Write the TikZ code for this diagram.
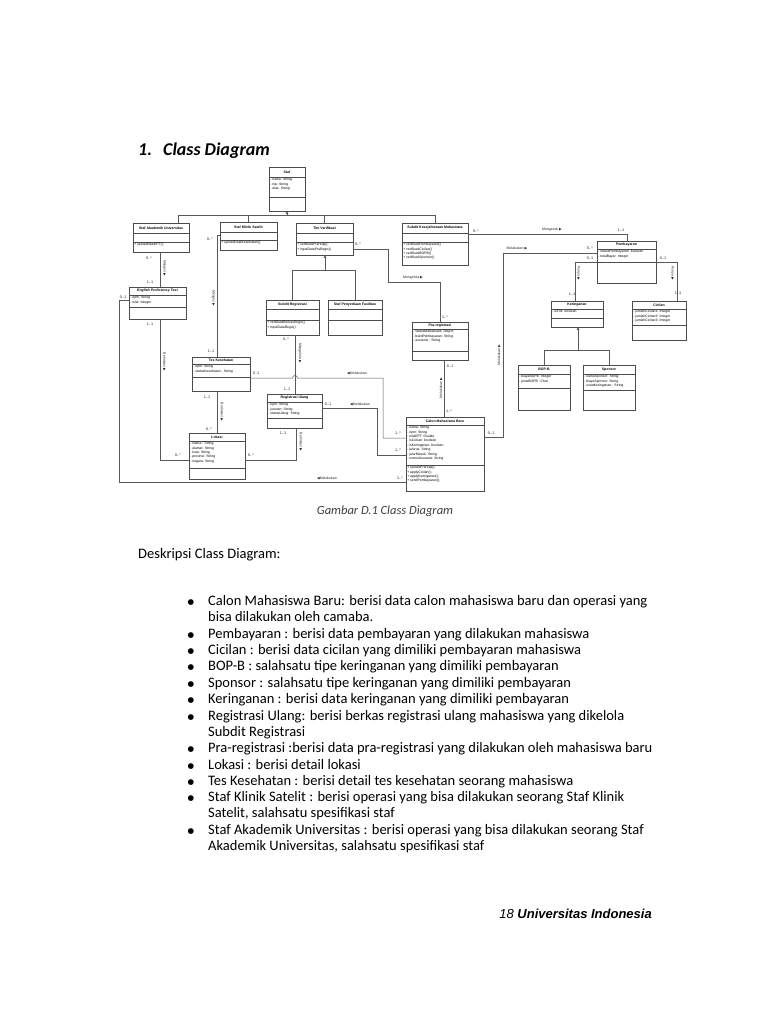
\documentclass[tikz,border=0pt]{standalone}
\usepackage{fontspec}
\setmainfont{Carlito}
\newfontfamily\diag{Liberation Sans}
\newfontfamily\symf{DejaVu Sans}
\usetikzlibrary{fit,calc,arrows.meta}
\newcommand{\tri}{{\symf ▶}}
\newcommand{\ltri}{{\symf ◀}}
\newcommand{\umlclass}[8]{%
  \node[clsbox, fit={(#2) (#3)}] (#1) {};
  \draw[clsline] (#1.west |- 0,#4) -- (#1.east |- 0,#4);
  \draw[clsline] (#1.west |- 0,#5) -- (#1.east |- 0,#5);
  \path (#1.north) -- (#1.north |- 0,#4) node[midway, clstitle] {#6};
  \path (#1.west |- 0,#4) ++(1.4,1.0) node[clsattr] {#7};
  \path (#1.west |- 0,#5) ++(1.4,1.0) node[clsattr] {#8};
}
\tikzset{
  clsbox/.style={draw=black!70, line width=0.6pt, fill=white, inner sep=0pt},
  clsline/.style={draw=black!70, line width=0.45pt},
  clstitle/.style={font=\diag\bfseries\fontsize{3.5}{4}\selectfont, inner sep=0pt},
  clsattr/.style={font=\diag\fontsize{3.4}{4.4}\selectfont, anchor=north west, align=left, inner sep=0pt},
  conn/.style={draw=black!65, line width=0.5pt},
  mult/.style={font=\diag\fontsize{3.8}{4}\selectfont, inner sep=0pt, text=black!85},
  rel/.style={font=\diag\fontsize{3.5}{4}\selectfont, inner sep=0pt, text=black!85},
  inh/.style={conn, -{Triangle[length=2.6pt,width=2.8pt]}},
  body/.style={font=\fontsize{14.5}{17}\selectfont, anchor=base west, inner sep=0pt},
  bul/.style={font=\symf\fontsize{7.5}{8}\selectfont, anchor=base, inner sep=0pt},
}
\begin{document}
\begin{tikzpicture}[x=1pt,y=-1pt]
\fill[white] (0,0) rectangle (768,1024);
\useasboundingbox (0,0) rectangle (768,1024);

% title
\node[anchor=base west, inner sep=0pt, font=\bfseries\itshape\fontsize{18}{21}\selectfont] (t1) at (138,156) {1.};
\node[anchor=base west, inner sep=0pt, font=\bfseries\itshape\fontsize{18}{21}\selectfont] (t2) at (163,156) {Class Diagram};

% classes
\umlclass{staf}{269,167}{305,211}{177}{197}{Staf}{- nama: String\\- nip: String\\- alas: String}{}
\umlclass{sa}{133,223}{189,252}{233}{242}{Staf Akademik Universitas}{}{+ uploadNilaiEPT();}
\umlclass{kl}{220,222}{277,250}{232}{240}{Staf Klinik Satelit}{}{+ uploadDataKesehatan();}
\umlclass{tv}{296,223}{353,255}{233}{242}{Tim Verifikasi}{}{+ verifikasiPrereqs();\\+ inputDataPraRegis()}
\umlclass{sk}{402,223}{468,265}{233}{242}{Subdit Kesejahteraan Mahasiswa}{}{+ verifikasiPembayaran()\\+ verifikasiCicilan()\\+ verifikasiBOPB()\\+ verifikasiSponsor()}
\umlclass{pem}{597,241}{656,283}{249}{262}{Pembayaran}{- statusPembayaran: boolean\\- totalBayar: Integer}{}
\umlclass{ept}{129,287}{186,319}{295}{307}{\itshape English Proficiency Test}{- npm: String\\- nilai: Integer}{}
\umlclass{sr}{266,300}{319,335}{309}{320}{Subdit Registrasi}{}{+ verifikasiBerkasRegis()\\+ inputDataRegis()}
\umlclass{spf}{328,300}{382,335}{309}{320}{Staf Penyediaan Fasilitas}{}{}
\umlclass{ker}{551,301}{603,327}{309}{318}{Keringanan}{- isFull: boolean}{}
\umlclass{cic}{632,301}{686,340}{309}{325}{Cicilan}{- jumlahCicilan1: Integer\\- jumlahCicilan2: Integer\\- jumlahCicilan3: Integer}{}
\umlclass{pr}{412,322}{468,360}{329}{351}{Pra-registrasi}{- statusMahasiswa: Object\\- buktiPembayaran: String\\- asuransi : String}{}
\umlclass{tk}{192,357}{250,391}{364}{377}{Tes Kesehatan}{- npm: String\\- statusKesehatan : String}{}
\umlclass{ru}{267,394}{322,428}{402}{418}{Registrasi Ulang}{- npm: String\\- jurusan: String\\- statusUlang: String}{}
\umlclass{lok}{189,433}{245,479}{441}{468}{Lokasi}{- Nama : String\\- alamat: String\\- kota: String\\- provinsi: String\\- negara: String}{}
\umlclass{bop}{518,365}{570,410}{374}{388}{BOP-B}{- biayaBOPB: Integer\\- jenisBOPB : Char}{}
\umlclass{spo}{583,365}{635,410}{374}{390}{Sponsor}{- namaSponsor: String\\- biayaSponsor: String\\- suratKeringanan : String}{}
\umlclass{cmb}{406,417}{484,491}{425}{465}{Calon Mahasiswa Baru}{- nama: String\\- npm: String\\- nilaiEPT: Double\\- isCicilan: boolean\\- isKeringanan: boolean\\- jalurus: String\\- jalurMasuk: String\\- nomorAsuransi: String}{+ uploadPrereqs();\\+ applyCicilan();\\+ applyKeringanan();\\+ sendPembayaran();}

% Staf generalization
\draw[conn] (sa.north -| 178,0) -- (178,215) -- (435,215) -- (sk.north);
\draw[conn] (kl.north) -- (kl.north |- 0,215);
\draw[conn] (tv.north) -- (tv.north |- 0,215);
\draw[inh] (287,215) -- (staf.south);

% SA - EPT
\draw[conn] (sa.south -| 160,0) -- (ept.north -| 160,0);
\node[mult] (m1) at (149,258) {0..*};
\node[mult] (m2) at (150,282) {1..1};
\node[rel, rotate=-90] (r1) at (164.5,268) {Mengisi \tri};

% KL - TK
\draw[conn] (kl.west |- 0,235) -| (tk.north -| 217,0);
\node[mult] (m3) at (210,239) {0..*};
\node[mult] (m4) at (211,351) {1..1};
\node[rel, rotate=-90] (r2) at (213.5,298) {Mengisi \tri};

% TV - PR
\draw[conn] (tv.east |- 0,249) -- (388,249) -- (388,282) -- (440,282) -- (pr.north -| 440,0);
\node[mult] (m5) at (358,244) {0..*};
\node[mult] (m6) at (445,317) {1..*};
\node[rel] (r3) at (413,278) {Mengelola \tri};

% TV generalization
\draw[inh] (325,270) -- (tv.south -| 325,0);
\draw[conn] (sr.north) |- (spf.north |- 0,270) -- (spf.north);

% SR - RU
\draw[conn] (sr.south -| 295,0) -- (ru.north -| 295,0);
\node[mult] (m7) at (286,339) {0..*};
\node[mult] (m8) at (287,389) {1..1};
\node[rel, rotate=-90] (r4) at (300,353) {Mengelola \tri};

% TK - CMB
\draw[conn] (tk.east |- 0,378) -- (292.5,378) arc[start angle=180,end angle=360,radius=2.5] -- (383,378) -- (383,438) -- (cmb.west |- 0,438);
\node[mult] (m9) at (256,373) {0..1};
\node[rel] (r5) at (357,373) {\ltri Melakukan};
\node[mult] (m10) at (398,433) {1..*};

% RU - CMB
\draw[conn] (ru.east |- 0,408) -- (377,408) -- (377,455) -- (cmb.west |- 0,455);
\node[mult] (m11) at (328,404) {0..1};
\node[rel] (r6) at (360,404) {\ltri Melakukan};
\node[mult] (m12) at (398,450) {1..*};

% TK - LOK
\draw[conn] (tk.south -| 217,0) -- (lok.north -| 217,0);
\node[mult] (m13) at (207,397) {1..1};
\node[mult] (m14) at (209,429) {0..*};
\node[rel, rotate=-90] (r7) at (222,412) {Berlokasi \tri};

% EPT - LOK
\draw[conn] (ept.south -| 160,0) |- (lok.west |- 0,460);
\node[mult] (m15) at (150,324) {1..1};
\node[mult] (m16) at (178,455) {0..*};
\node[rel, rotate=-90] (r8) at (164.5,362) {Berlokasi \tri};

% LOK - RU
\draw[conn] (lok.east |- 0,460) -| (ru.south -| 296,0);
\node[mult] (m17) at (251,455) {0..*};
\node[mult] (m18) at (283,433) {1..1};
\node[rel, rotate=-90] (r9) at (301,442) {Berlokasi \tri};

% EPT - CMB
\draw[conn] (ept.west |- 0,300) -- (119,300) -- (119,482) -- (cmb.west |- 0,482);
\node[mult] (m19) at (123,297) {0..1};
\node[rel] (r10) at (327,478) {\ltri Melakukan};
\node[mult] (m20) at (400,478) {1..*};

% PR - CMB
\draw[conn] (pr.south -| 444,0) -- (cmb.north -| 444,0);
\node[mult] (m21) at (450,366) {0..1};
\node[mult] (m22) at (449,411) {1..*};
\node[rel, rotate=90] (r11) at (441,388) {Melakukan \tri};

% CMB - PEM
\draw[conn] (cmb.east |- 0,437) -- (503,437) -- (503,253) -- (pem.west |- 0,253);
\node[mult] (m23) at (491,433) {0..1};
\node[mult] (m24) at (590,248) {0..*};
\node[rel] (r12) at (517,248) {Melakukan \tri};
\node[rel, rotate=90] (r13) at (499,355) {Melakukan \tri};

% SK - PEM
\draw[conn] (sk.east |- 0,234) -| (pem.north -| 627,0);
\node[mult] (m25) at (476,231) {0..*};
\node[mult] (m26) at (621,230) {1..1};
\node[rel] (r14) at (552,230) {Mengecek \tri};

% PEM - KER
\draw[conn] (pem.west |- 0,262) -| (ker.north -| 575,0);
\node[mult] (m27) at (590,258) {0..1};
\node[mult] (m28) at (572,294) {1..1};
\node[rel, rotate=-90] (r15) at (578.5,273) {Punya \tri};

% PEM - CIC
\draw[conn] (pem.east |- 0,262) -| (cic.north -| 677,0);
\node[mult] (m29) at (663,258) {0..1};
\node[mult] (m30) at (678,293) {1..1};
\node[rel, rotate=-90] (r16) at (672.5,273) {Punya \tri};

% Keringanan generalization
\draw[inh] (578,350) -- (ker.south -| 578,0);
\draw[conn] (bop.north) |- (spo.north |- 0,350) -- (spo.north);

% caption
\node[anchor=base, inner sep=0pt, font=\itshape\fontsize{12.5}{14}\selectfont, text=black!75] (cap) at (385,514) {Gambar D.1 Class Diagram};

% description
\node[anchor=base west, inner sep=0pt, font=\fontsize{14.5}{17}\selectfont] (desc) at (138,558) {Deskripsi Class Diagram:};

\node[bul] (b1) at (191,604) {●};
\node[body] (l1) at (208,605) {Calon Mahasiswa Baru: berisi data calon mahasiswa baru dan operasi yang};
\node[body] (l1b) at (208,621) {bisa dilakukan oleh camaba.};
\node[bul] (b2) at (191,637) {●};
\node[body] (l2) at (208,638) {Pembayaran : berisi data pembayaran yang dilakukan mahasiswa};
\node[bul] (b3) at (191,653) {●};
\node[body] (l3) at (208,654) {Cicilan : berisi data cicilan yang dimiliki pembayaran mahasiswa};
\node[bul] (b4) at (191,669) {●};
\node[body] (l4) at (208,670) {BOP-B : salahsatu tipe keringanan yang dimiliki pembayaran};
\node[bul] (b5) at (191,686) {●};
\node[body] (l5) at (208,687) {Sponsor : salahsatu tipe keringanan yang dimiliki pembayaran};
\node[bul] (b6) at (191,702) {●};
\node[body] (l6) at (208,703) {Keringanan : berisi data keringanan yang dimiliki pembayaran};
\node[bul] (b7) at (191,719) {●};
\node[body] (l7) at (208,720) {Registrasi Ulang: berisi berkas registrasi ulang mahasiswa yang dikelola};
\node[body] (l7b) at (208,736) {Subdit Registrasi};
\node[bul] (b8) at (191,751) {●};
\node[body] (l8) at (208,752) {Pra-registrasi :berisi data pra-registrasi yang dilakukan oleh mahasiswa baru};
\node[bul] (b9) at (191,768) {●};
\node[body] (l9) at (208,769) {Lokasi : berisi detail lokasi};
\node[bul] (b10) at (191,784) {●};
\node[body] (l10) at (208,785) {Tes Kesehatan : berisi detail tes kesehatan seorang mahasiswa};
\node[bul] (b11) at (191,800) {●};
\node[body] (l11) at (208,801) {Staf Klinik Satelit : berisi operasi yang bisa dilakukan seorang Staf Klinik};
\node[body] (l11b) at (208,817) {Satelit, salahsatu spesifikasi staf};
\node[bul] (b12) at (191,833) {●};
\node[body] (l12) at (208,834) {Staf Akademik Universitas : berisi operasi yang bisa dilakukan seorang Staf};
\node[body] (l12b) at (208,850) {Akademik Universitas, salahsatu spesifikasi staf};

% footer
\node[anchor=base east, inner sep=0pt, font=\diag\fontsize{13}{15}\selectfont] (foot) at (652,918) {\textit{18} \textbf{\textit{Universitas Indonesia}}};
\end{tikzpicture}
\end{document}
